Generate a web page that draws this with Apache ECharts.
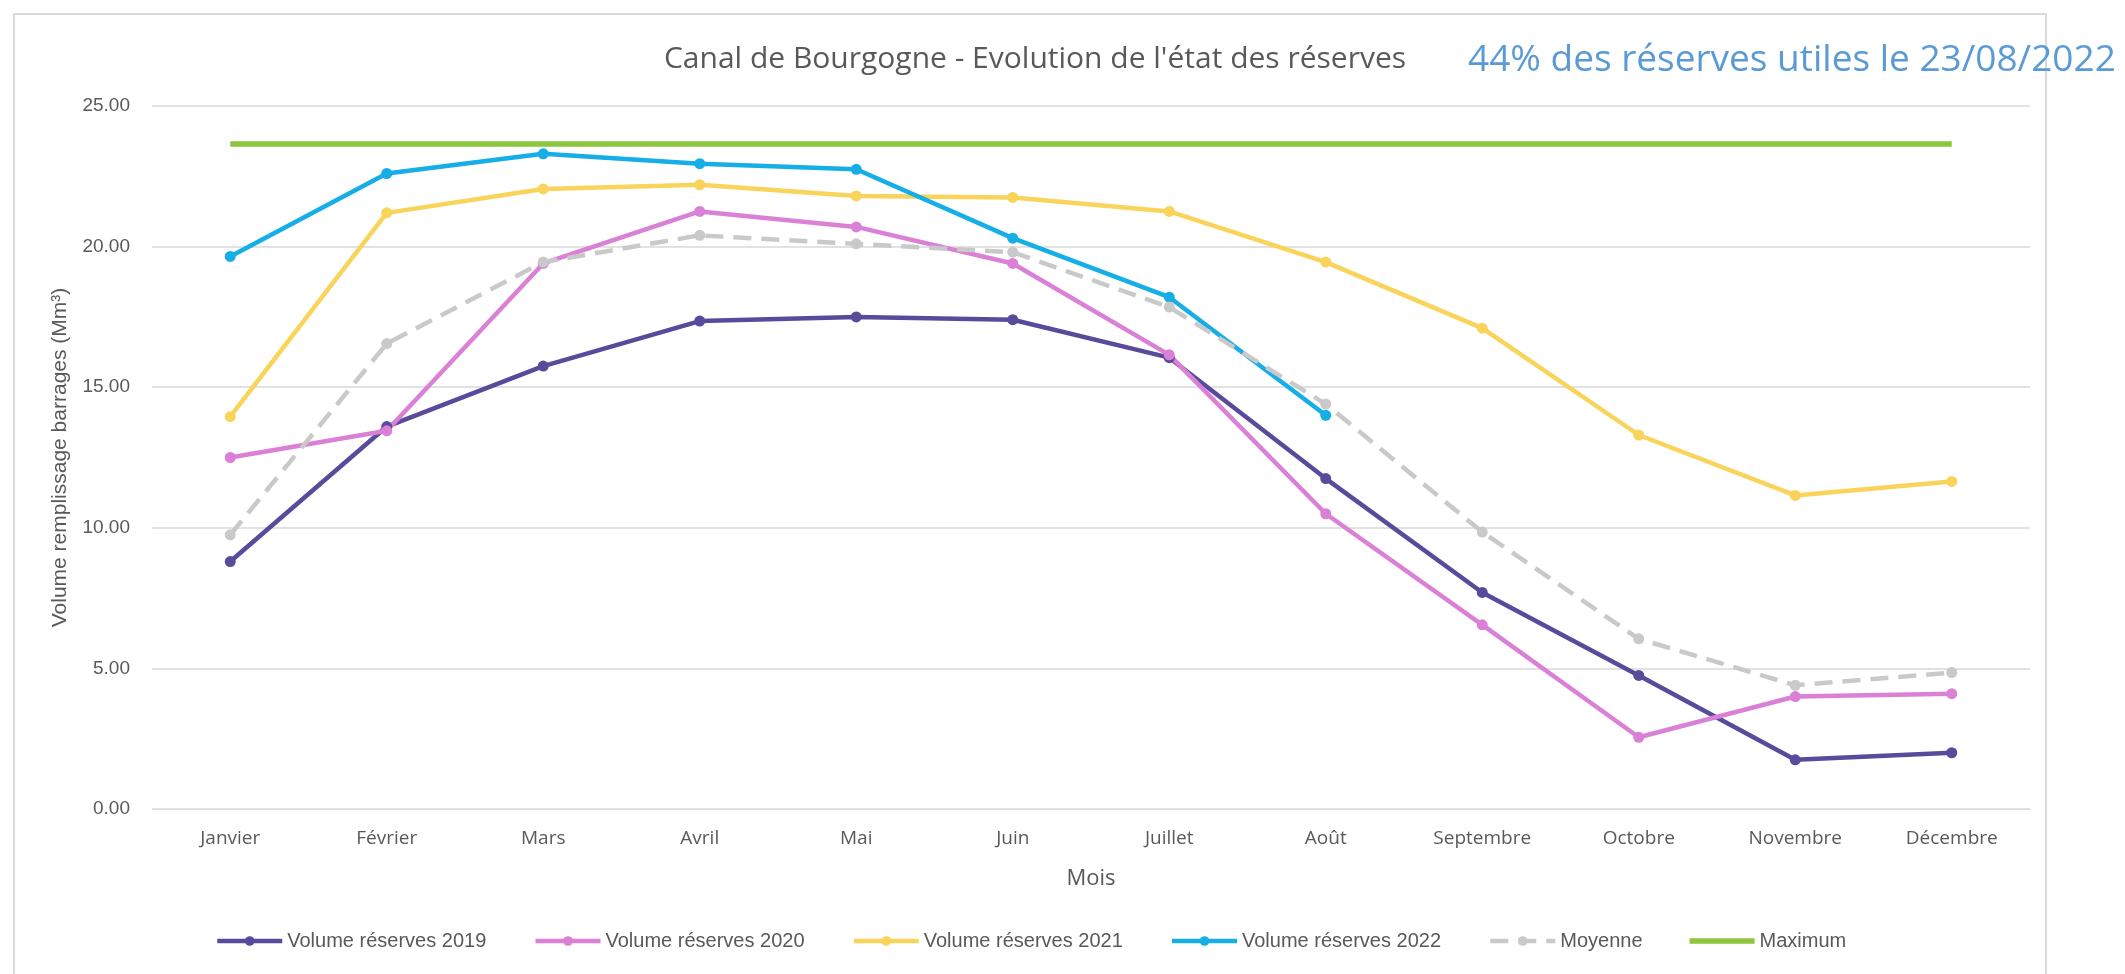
<!DOCTYPE html>
<html>
<head>
<meta charset="utf-8">
<script src="https://cdn.jsdelivr.net/npm/echarts@6/dist/echarts.min.js"></script>
<style>
  html, body { margin: 0; padding: 0; background: #fff; }
  #chart { width: 2125px; height: 974px; }
</style>
</head>
<body>
<div id="chart"></div>
<script>
const months = ['Janvier', 'Février', 'Mars', 'Avril', 'Mai', 'Juin', 'Juillet', 'Août', 'Septembre', 'Octobre', 'Novembre', 'Décembre']
const reserves2019 = [8.8, 13.6, 15.75, 17.35, 17.5, 17.4, 16.05, 11.75, 7.7, 4.75, 1.75, 2.0]
const reserves2020 = [12.5, 13.45, 19.4, 21.25, 20.7, 19.4, 16.15, 10.5, 6.55, 2.55, 4.0, 4.1]
const reserves2021 = [13.95, 21.2, 22.05, 22.2, 21.8, 21.75, 21.25, 19.45, 17.1, 13.3, 11.15, 11.65]
const reserves2022 = [19.65, 22.6, 23.3, 22.95, 22.75, 20.3, 18.2, 14.0]
const moyenne = [9.75, 16.55, 19.45, 20.4, 20.1, 19.8, 17.85, 14.4, 9.85, 6.05, 4.4, 4.85]
const maximum = [23.65, 23.65, 23.65, 23.65, 23.65, 23.65, 23.65, 23.65, 23.65, 23.65, 23.65, 23.65]

const myChart = echarts.init(document.getElementById('chart'))

function lineSerie(name, data, color) {
  return {
    name: name,
    type: 'line',
    data: data,
    symbol: 'circle',
    symbolSize: 11,
    itemStyle: { color: color },
    lineStyle: { color: color, width: 4.5 }
  }
}

const moyenneSerie = lineSerie('Moyenne', moyenne, '#c9c9c9')
moyenneSerie.lineStyle.type = [18, 10]

let option = {
  animation: false,
  textStyle: { fontFamily: 'Liberation Sans' },
  title: [
    {
      text: "Canal de Bourgogne - Evolution de l'état des réserves",
      left: 1030,
      top: 39,
      textAlign: 'center',
      textStyle: { color: '#595959', fontSize: 30, fontWeight: 'normal', fontFamily: 'Open Sans' }
    },
    {
      text: '44% des réserves utiles le 23/08/2022',
      left: 1463,
      top: 37,
      textStyle: { color: '#5b9bd5', fontSize: 37, fontWeight: 'normal', fontFamily: 'Open Sans' }
    }
  ],
  graphic: [
    {
      type: 'rect',
      shape: { x: 14, y: 14, width: 2032, height: 980 },
      style: { fill: 'none', stroke: '#d9d9d9', lineWidth: 2 },
      silent: true
    }
  ],
  legend: {
    left: 210,
    top: 926,
    itemWidth: 65,
    itemHeight: 12,
    itemGap: 47,
    lineStyle: { width: 4.5 },
    textStyle: { color: '#595959', fontSize: 20 },
    data: [
      'Volume réserves 2019',
      'Volume réserves 2020',
      'Volume réserves 2021',
      'Volume réserves 2022',
      'Moyenne',
      { name: 'Maximum', icon: 'path://M0,0 L65,0 L65,5.5 L0,5.5 Z' }
    ]
  },
  grid: {
    left: 152,
    right: 95,
    top: 106,
    bottom: 165
  },
  xAxis: {
    type: 'category',
    data: months,
    name: 'Mois',
    nameLocation: 'middle',
    nameGap: 59,
    nameTextStyle: { color: '#595959', fontSize: 22, fontFamily: 'Open Sans' },
    axisLine: { lineStyle: { color: '#d9d9d9' } },
    axisTick: { show: false },
    axisLabel: { color: '#595959', fontSize: 19, margin: 20, fontFamily: 'Open Sans' }
  },
  yAxis: {
    type: 'value',
    min: 0,
    max: 25,
    interval: 5,
    name: 'Volume remplissage barrages (Mm³)',
    nameLocation: 'middle',
    nameGap: 81,
    nameTextStyle: { color: '#595959', fontSize: 21 },
    axisLabel: {
      color: '#595959',
      fontSize: 19,
      margin: 22,
      formatter: (v) => v.toFixed(2)
    },
    splitLine: { lineStyle: { color: '#d9d9d9', width: 1.5 } }
  },
  series: [
    lineSerie('Volume réserves 2019', reserves2019, '#5a4a9c'),
    lineSerie('Volume réserves 2020', reserves2020, '#da80d6'),
    lineSerie('Volume réserves 2021', reserves2021, '#f9d35a'),
    lineSerie('Volume réserves 2022', reserves2022, '#15aee6'),
    moyenneSerie,
    {
      name: 'Maximum',
      type: 'line',
      data: maximum,
      symbol: 'none',
      itemStyle: { color: '#8cc63f' },
      lineStyle: { color: '#8cc63f', width: 5.5 }
    }
  ]
}
option && myChart.setOption(option)
</script>
</body>
</html>
